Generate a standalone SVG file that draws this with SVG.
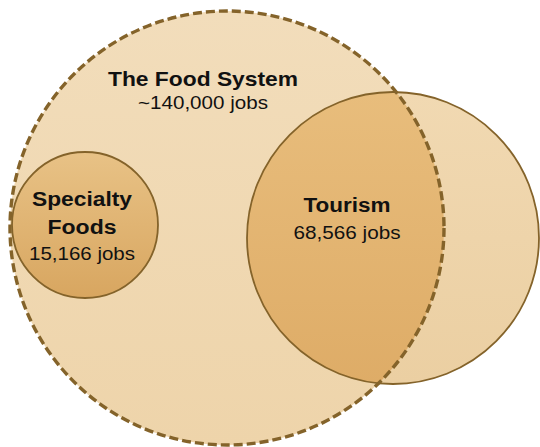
<svg xmlns="http://www.w3.org/2000/svg" width="540" height="447" viewBox="0 0 540 447">
<style>
.t{font-family:"Liberation Sans",Arial,sans-serif;fill:#111;text-anchor:middle}
.b{font-weight:bold}
.edge{fill:none;stroke:#84632a}
</style>
<defs>
<linearGradient id="gBig" x1="0" y1="0" x2="0" y2="1">
<stop offset="0" stop-color="#f2ddbb"/>
<stop offset="1" stop-color="#eed4aa"/>
</linearGradient>
<linearGradient id="gSpec" x1="0" y1="0" x2="0" y2="1">
<stop offset="0" stop-color="#e8c286"/>
<stop offset="1" stop-color="#d8a660"/>
</linearGradient>
<linearGradient id="gTourOut" x1="0" y1="0" x2="0" y2="1">
<stop offset="0" stop-color="#f1d9b2"/>
<stop offset="1" stop-color="#ebcfa2"/>
</linearGradient>
<linearGradient id="gTourIn" x1="0" y1="0" x2="0" y2="1">
<stop offset="0" stop-color="#e8bd7c"/>
<stop offset="1" stop-color="#deac67"/>
</linearGradient>
<clipPath id="clipBig"><circle cx="227" cy="228" r="217"/></clipPath>
</defs>
<g id="food-system">
<circle cx="227" cy="228" r="217" fill="url(#gBig)"/>
</g>
<g id="tourism">
<circle cx="393" cy="238" r="146" fill="url(#gTourOut)"/>
<circle cx="393" cy="238" r="146" fill="url(#gTourIn)" clip-path="url(#clipBig)"/>
<circle class="edge" cx="393" cy="238" r="146" stroke-width="1.8"/>
<text class="t b" x="347" y="212" font-size="20" textLength="87" lengthAdjust="spacingAndGlyphs">Tourism</text>
<text class="t" x="347" y="239" font-size="18.5" textLength="107" lengthAdjust="spacingAndGlyphs">68,566 jobs</text>
</g>
<g id="food-system-edge">
<circle class="edge" cx="227" cy="228" r="217" stroke-width="3.4" stroke-dasharray="9 4"/>
<text class="t b" x="203" y="86" font-size="20.5" textLength="190" lengthAdjust="spacingAndGlyphs">The Food System</text>
<text class="t" x="203" y="109" font-size="17.5" textLength="130" lengthAdjust="spacingAndGlyphs">~140,000 jobs</text>
</g>
<g id="specialty-foods">
<circle cx="85" cy="225" r="73" fill="url(#gSpec)" stroke="#84632a" stroke-width="1.8"/>
<text class="t b" x="82" y="206" font-size="20" textLength="100" lengthAdjust="spacingAndGlyphs">Specialty</text>
<text class="t b" x="82" y="234" font-size="20" textLength="69" lengthAdjust="spacingAndGlyphs">Foods</text>
<text class="t" x="82" y="260" font-size="18.5" textLength="106" lengthAdjust="spacingAndGlyphs">15,166 jobs</text>
</g>
</svg>
